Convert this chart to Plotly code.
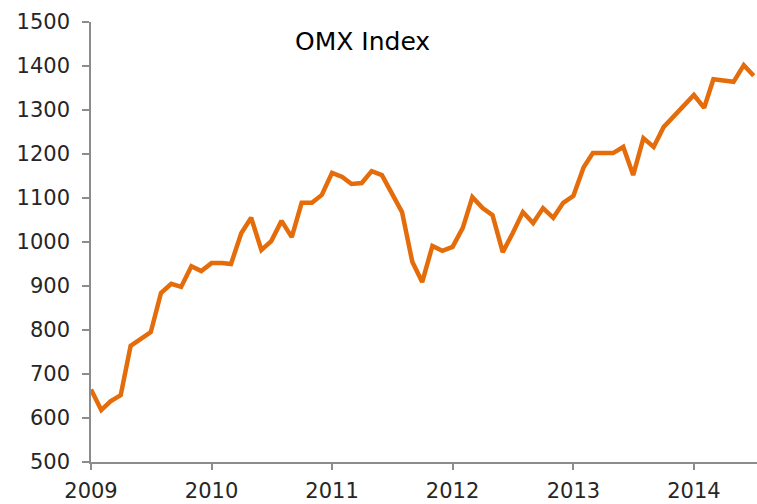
import plotly.graph_objects as go
import pandas as pd

months = pd.date_range("2009-01-01", periods=67, freq="MS").strftime("%Y-%m-%d").tolist()
omx_values = [
    665, 618, 638, 652, 764, 780, 795, 884, 905, 898, 945, 934,
    952, 952, 950, 1020, 1055, 982, 1002, 1048, 1011, 1089, 1089, 1107,
    1157, 1148, 1132, 1134, 1161, 1152, 1111, 1068, 955, 909, 991, 980,
    989, 1032, 1102, 1077, 1061, 977, 1020, 1068, 1043, 1077, 1055, 1089,
    1105, 1170, 1202, 1202, 1202, 1216, 1152, 1236, 1216, 1261, 1286, 1309,
    1334, 1305, 1370, 1367, 1364, 1402, 1378,
]
title_text = "OMX Index"
y_ticks = [500, 600, 700, 800, 900, 1000, 1100, 1200, 1300, 1400, 1500]

fig = go.Figure()
fig.add_trace(go.Scatter(
    x=months, y=omx_values, mode="lines",
    line=dict(color="#E46C0A", width=4.5),
    showlegend=False, hoverinfo="x+y",
))

font_family = "DejaVu Sans"
fig.update_layout(
    width=757, height=504,
    margin=dict(l=91, r=0, t=22, b=42),
    paper_bgcolor="white", plot_bgcolor="white",
    font=dict(family=font_family, size=21, color="#262626"),
    annotations=[dict(
        text=title_text,
        x=(362 - 91) / (757 - 91), y=(462 - 41) / (462 - 22),
        xref="paper", yref="paper",
        showarrow=False, font=dict(family=font_family, size=25, color="#000000"),
        xanchor="center", yanchor="middle",
    )],
)

fig.update_xaxes(
    type="date", range=["2009-01-01", "2014-07-11"],
    tickmode="linear", tick0="2009-01-01", dtick="M12", tickformat="%Y",
    ticks="outside", ticklen=6, tickcolor="#8c8c8c", tickwidth=1.5,
    showline=True, linecolor="#8c8c8c", linewidth=1.5,
    showgrid=False, zeroline=False,
    tickfont=dict(family=font_family, size=21, color="#262626"),
    ticklabelstandoff=3,
)
fig.update_yaxes(
    range=[500, 1500], tickvals=y_ticks,
    ticks="outside", ticklen=7, tickcolor="#8c8c8c", tickwidth=1.5,
    showline=True, linecolor="#8c8c8c", linewidth=1.5,
    showgrid=False, zeroline=False,
    tickfont=dict(family=font_family, size=21, color="#262626"),
    ticklabelstandoff=8,
)

fig.write_html("out.html")
